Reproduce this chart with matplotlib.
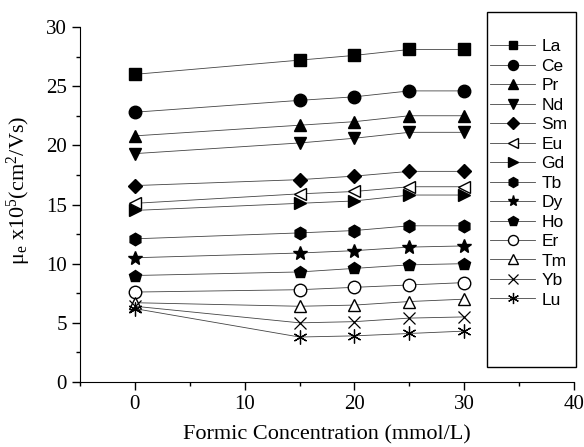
import matplotlib
matplotlib.use("Agg")
import matplotlib.pyplot as plt
from matplotlib.patches import Rectangle
from matplotlib.ticker import MultipleLocator

plt.rcParams['font.family'] = ['Liberation Serif', 'DejaVu Serif']
plt.rcParams['mathtext.fontset'] = 'custom'
plt.rcParams['mathtext.rm'] = 'Liberation Serif'
plt.rcParams['mathtext.it'] = 'Liberation Serif:italic'

conc = [0, 15, 20, 25, 30]
elements = ["La", "Ce", "Pr", "Nd", "Sm", "Eu", "Gd", "Tb", "Dy", "Ho", "Er", "Tm", "Yb", "Lu"]
La = [26.0, 27.2, 27.6, 28.1, 28.1]
Ce = [22.8, 23.8, 24.1, 24.6, 24.6]
Pr = [20.8, 21.7, 22.0, 22.5, 22.5]
Nd = [19.3, 20.2, 20.6, 21.1, 21.1]
Sm = [16.6, 17.1, 17.4, 17.8, 17.8]
Eu = [15.1, 15.9, 16.1, 16.5, 16.5]
Gd = [14.5, 15.1, 15.3, 15.8, 15.8]
Tb = [12.1, 12.6, 12.8, 13.2, 13.2]
Dy = [10.5, 10.9, 11.1, 11.4, 11.5]
Ho = [9.0, 9.3, 9.6, 9.9, 10.0]
Er = [7.6, 7.8, 8.0, 8.2, 8.4]
Tm = [6.7, 6.4, 6.5, 6.8, 7.0]
Yb = [6.4, 5.0, 5.1, 5.4, 5.5]
Lu = [6.2, 3.8, 3.9, 4.1, 4.3]
series = [La, Ce, Pr, Nd, Sm, Eu, Gd, Tb, Dy, Ho, Er, Tm, Yb, Lu]

styles = [
    dict(marker='s', ms=8, mfc='black'),
    dict(marker='o', ms=9, mfc='black'),
    dict(marker='^', ms=9, mfc='black'),
    dict(marker='v', ms=9, mfc='black'),
    dict(marker='D', ms=7.5, mfc='black'),
    dict(marker='<', ms=9, mfc='white'),
    dict(marker='>', ms=9, mfc='black'),
    dict(marker='h', ms=9, mfc='black'),
    dict(marker='*', ms=10, mfc='black'),
    dict(marker='p', ms=9, mfc='black'),
    dict(marker='o', ms=9, mfc='white'),
    dict(marker='^', ms=9, mfc='white'),
    dict(marker='x', ms=9, mfc='black', mew=0.9),
    dict(marker=(6, 2, 0), ms=10, mfc='black', mew=0.9),
]

fig = plt.figure(figsize=(5.84, 4.47), dpi=100)
ax = fig.add_axes([80/584, 1-382/447, (574-80)/584, (382-27)/447])

handles = []
for name, vals, st in zip(elements, series, styles):
    st = dict(st)
    mew = st.pop('mew', 1.0)
    h, = ax.plot(conc, vals, color='#444444', lw=0.6, mec='black', mew=mew,
                 label=name, **st)
    handles.append(h)

ax.set_xlim(-5, 40)
ax.set_ylim(0, 30)
ax.spines['top'].set_visible(False)
ax.spines['right'].set_visible(False)
ax.xaxis.set_major_locator(MultipleLocator(10))
ax.xaxis.set_minor_locator(MultipleLocator(5))
ax.yaxis.set_major_locator(MultipleLocator(5))
ax.yaxis.set_minor_locator(MultipleLocator(2.5))
ax.tick_params(which='major', direction='out', length=6, width=1, labelsize=15)
ax.tick_params(which='minor', direction='out', length=3, width=1)
ax.set_xlabel('Formic Concentration (mmol/L)', fontsize=16, labelpad=8)
ax.set_ylabel('μ$_\\mathrm{e}$ x10$^5$(cm$^2$/Vs)', fontsize=16)
ax.yaxis.set_label_coords(-0.095, 0.54)

rect = Rectangle((487/584, 1-367/447), 89/584, 355/447, transform=fig.transFigure,
                 fill=False, edgecolor='black', lw=1.0)
fig.patches.append(rect)

leg = fig.legend(handles=handles, loc='upper left',
                 bbox_to_anchor=(490/584, 1-39/447), frameon=False,
                 prop={'family': 'Liberation Sans', 'size': 12.5},
                 handlelength=2.6, handletextpad=0.35, labelspacing=0.25,
                 borderpad=0, borderaxespad=0, markerscale=0.8)

fig.savefig('out.png', dpi=100)
